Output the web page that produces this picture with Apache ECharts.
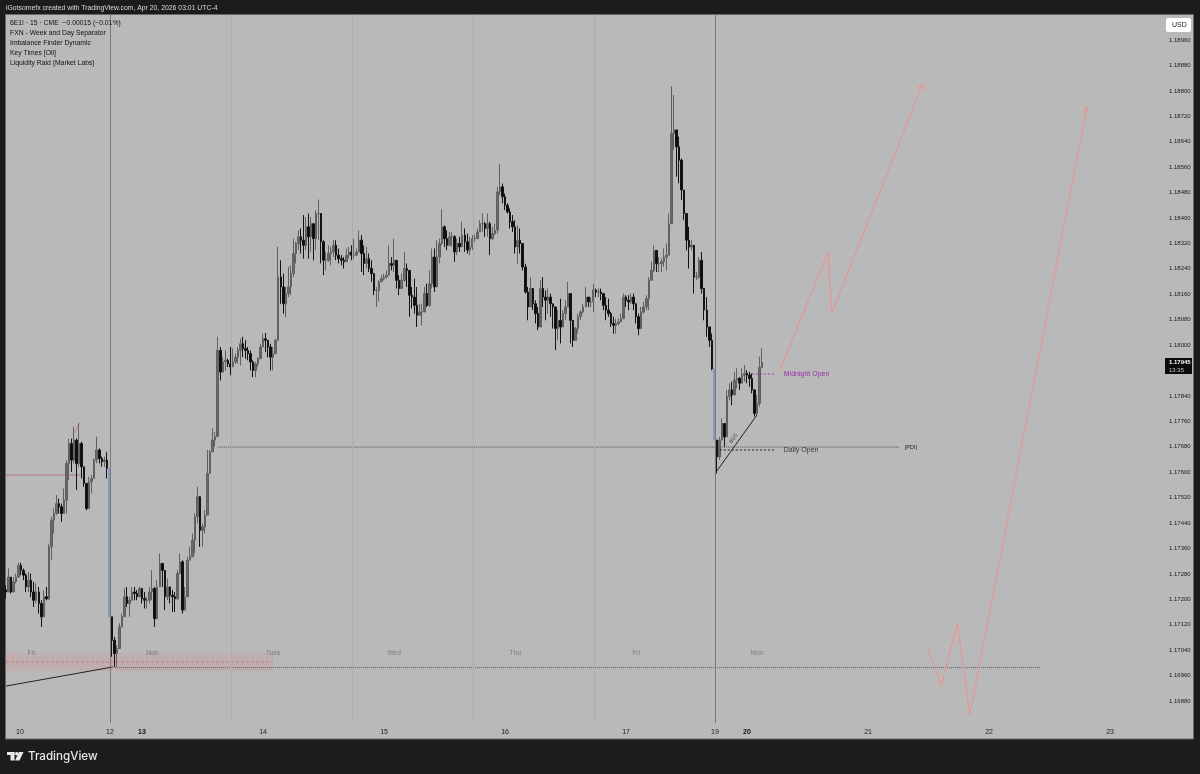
<!DOCTYPE html>
<html><head><meta charset="utf-8">
<style>html,body{margin:0;padding:0;background:#1c1c1c}#c{width:1200px;height:774px;filter:blur(0.45px)}</style>
<script src="https://cdn.jsdelivr.net/npm/echarts@6/dist/echarts.min.js"></script>
</head><body><div id="c"></div>
<script>
// Prices in 1e-5 units (117230 = 1.17230). One candle per 30-minute slot.
const firstOpen = 117230;
const closes = [
117223,117270,117223,117255,117270,117307,117291,117276,117239,117260,117223,117197,117223,117187,117145,117208,117202,117365,117449,117470,117501,117491,117470,117512,117627,117690,117638,117701,117627,117690,117617,117565,117486,117570,117580,117638,117670,117643,117633,117638,117612,117145,
117071,117029,117045,117113,117145,117208,117187,117197,117223,117218,117208,117234,117202,117197,117197,117223,117234,117139,117239,117313,117291,117208,117239,117213,117208,117202,117281,117318,117166,117208,117323,117334,117386,117460,117523,117417,117428,117465,117596,117664,117701,117712,
117983,117915,117947,117952,117941,117931,117947,117962,117983,118004,117989,117983,117973,117947,117920,117941,117957,117994,118020,118015,117994,117962,117973,118015,118214,118183,118130,118162,118183,118225,118288,118320,118341,118330,118314,118372,118341,118382,118335,118414,118414,118325,118267,118267,118288,118293,118314,118283,118272,118267,118262,118283,118293,118283,118283,118293,118330,118288,118257,118272,118241,118225,118172,118172,118199,118209,118214,118220,118257,118251,118267,118204,118178,118204,118241,118235,118157,118151,118125,118094,118104,118104,118162,118125,118193,118277,118183,118277,118320,118372,118335,118314,118341,118341,118293,118320,118309,118346,118325,118299,118309,118335,118335,118356,118382,118382,118367,118382,118335,118351,118362,118482,
118498,118467,118440,118419,118388,118372,118309,118330,118320,118246,118167,118120,118178,118130,118099,118057,118178,118151,118141,118151,118130,118120,118052,118078,118057,118099,118120,118162,118078,118015,118052,118089,118104,118120,118151,118136,118136,118173,118167,118167,118162,118125,118110,118099,118068,118062,118068,118073,118083,118151,118141,118136,118151,118130,118089,118052,118104,118120,118146,118204,118235,118298,118256,118256,118262,118277,118283,118382,118666,118677,118624,118582,118488,118414,118330,118309,118314,118214,118214,118267,118178,118110,118057,118015,117925,
117701,
117648,117701,117753,117711,117838,117859,117843,117890,117895,117880,117906,117911,117906,117895,117859,117785,117817,117930,117945];
const highs = [
117244,117297,117270,117270,117281,117315,117315,117297,117281,117286,117281,117255,117250,117239,117197,117228,117239,117375,117460,117486,117528,117517,117501,117549,117638,117706,117706,117743,117706,117753,117696,117617,117565,117586,117591,117643,117712,117675,117649,117649,117664,117612,
117145,117082,117055,117124,117155,117234,117239,117208,117239,117239,117229,117239,117234,117223,117208,117239,117292,117239,117260,117344,117313,117281,117265,117229,117229,117223,117292,117344,117323,117239,117334,117365,117407,117470,117554,117465,117439,117481,117670,117670,117738,117727,
118026,117994,117962,117983,117957,117994,117989,117973,117994,118020,118026,118015,117994,117983,117952,117947,117962,118004,118036,118038,118015,118004,117994,118020,118309,118267,118225,118183,118246,118251,118335,118325,118361,118367,118409,118403,118414,118403,118382,118424,118458,118382,118330,118293,118314,118309,118332,118330,118304,118283,118277,118304,118309,118314,118335,118304,118361,118346,118314,118309,118288,118267,118214,118183,118204,118220,118225,118235,118314,118277,118335,118251,118220,118225,118293,118257,118235,118183,118209,118183,118130,118130,118183,118193,118235,118304,118304,118330,118335,118427,118377,118361,118356,118356,118346,118335,118341,118388,118367,118351,118341,118346,118346,118367,118393,118414,118388,118414,118388,118372,118382,118498,
118569,118508,118477,118446,118430,118409,118393,118377,118367,118320,118256,118183,118214,118172,118141,118120,118204,118214,118172,118178,118162,118130,118120,118110,118146,118110,118141,118199,118110,118068,118057,118099,118110,118130,118183,118146,118151,118193,118178,118178,118178,118157,118151,118146,118104,118089,118083,118083,118099,118162,118157,118157,118162,118162,118125,118099,118120,118136,118157,118214,118262,118314,118277,118277,118272,118304,118320,118414,118815,118787,118677,118656,118587,118467,118382,118372,118330,118298,118230,118277,118293,118151,118151,118041,118036,
117925,
117680,117711,117769,117753,117859,117880,117885,117916,117927,117900,117927,117937,117921,117916,117911,117859,117843,117964,117990];
const lows = [
117202,117234,117218,117239,117250,117276,117276,117260,117223,117223,117207,117176,117187,117155,117113,117176,117197,117197,117323,117407,117465,117470,117444,117470,117470,117575,117601,117628,117544,117617,117580,117554,117480,117533,117533,117580,117628,117628,117617,117617,117580,117145,
117019,116987,116987,117045,117113,117145,117176,117145,117197,117197,117197,117208,117187,117171,117171,117187,117197,117113,117197,117271,117239,117166,117197,117187,117160,117160,117197,117281,117155,117187,117239,117323,117334,117344,117439,117365,117365,117407,117470,117596,117664,117680,
117731,117889,117915,117920,117931,117905,117931,117941,117941,117936,117962,117957,117952,117920,117899,117899,117931,117962,117994,117978,117962,117920,117920,117973,118115,118130,118099,118088,118151,118157,118214,118257,118299,118288,118272,118299,118272,118293,118267,118299,118330,118257,118220,118235,118262,118251,118277,118267,118257,118251,118241,118267,118272,118267,118272,118283,118299,118230,118220,118241,118230,118199,118157,118120,118136,118199,118204,118209,118220,118235,118230,118178,118157,118183,118199,118183,118089,118115,118099,118057,118094,118062,118115,118120,118120,118178,118167,118214,118257,118314,118309,118299,118314,118309,118262,118283,118293,118320,118293,118288,118283,118299,118325,118341,118356,118356,118341,118341,118283,118330,118346,118351,
118472,118446,118425,118414,118367,118356,118288,118256,118288,118235,118162,118078,118120,118110,118068,118047,118110,118120,118078,118099,118089,118052,117984,118015,118005,118057,118078,118120,118005,117994,118026,118036,118078,118099,118130,118120,118120,118104,118151,118151,118141,118110,118078,118089,118057,118036,118036,118062,118073,118099,118120,118110,118130,118110,118068,118031,118068,118099,118110,118110,118214,118230,118230,118230,118230,118246,118235,118309,118382,118614,118530,118509,118456,118393,118298,118241,118298,118162,118204,118209,118162,118078,118026,117994,117921,
117701,
117596,117638,117701,117680,117711,117827,117811,117859,117864,117859,117880,117885,117880,117869,117848,117775,117780,117806,117937];
const gapBars = [41, 281];

// Time scale: slot numbers of the labelled days and the separators
const tickSlots = [5.55, 41.25, 53.95, 102, 150, 198, 246, 281.25, 293.95, 342, 390, 438];
const tickLabels = ['10','12','13','14','15','16','17','19','20','21','22','23'];
const boldTicks = ['13','20'];
const strongSeparators = [41.25, 281.25];
const faintSeparators = [89.25, 137.25, 185.25, 233.25];
const weekdayNames = ['Fri','Mon','Tues','Wed','Thu','Fri','Mon'];
const weekdaySlots = [10, 58, 106, 154, 202, 250, 298];
const weekdayPrice = 117031;

// Drawings (slot, price in 1e-5 units)
const projectionA = [[307,117921],[326.1,118293],[327.6,118101],[363.7,118822]];
const arrowHeadA = [[361.6,118808],[363.7,118822],[364.4,118802]];
const projectionB = [[365.7,117047],[370.9,116927],[377.4,117124],[382.4,116836],[428.8,118749]];
const arrowHeadB = [[427.4,118730],[428.8,118749],[429.7,118728]];
const pdiLevel = [[84,117679],[354.6,117679]];
const lowLevel = [[43.2,116985],[410.2,116985]];
const zoneSlots = [0, 106];
const zonePrices = [117031, 116974];
const zoneMid = [[0,117003],[106,117003]];
const redLevel = [[0,117591],[30,117591]];
const redTick = [[27,117723],[29.4,117758]];
const riseLeft = [[0,116927],[42.4,116987]];
const riseRight = [[281.4,117597],[297.9,117780]];
const midnightOpen = [[296,117909],[305,117909]];
const dailyOpen = [[281.6,117670],[305,117670]];
const bosLabel = [288.6, 117706];

const legendLines = ['6E1! \u00b7 15 \u00b7 CME  \u22120.00015 (\u22120.01%)','FXN - Week and Day Separator','Imbalance Finder Dynamic','Key Times [Oli]','Liquidity Raid (Market Labs)'];
const legendY = [24, 34, 44, 54, 63.5];
const headerText = 'iGotsomefx created with TradingView.com, Apr 20, 2026 03:01 UTC-4';

const P = v => v / 1e5;
const pts = a => a.map(d => [d[0], P(d[1])]);
const FONT = '"Liberation Sans", Arial, sans-serif';

const candles = closes.map((c, i) => {
  const o = i === 0 ? firstOpen : closes[i - 1];
  const value = [i, P(o), P(c), P(lows[i]), P(highs[i])];
  return gapBars.includes(i)
    ? {value, itemStyle:{color:'#8898c4',color0:'#8898c4',borderColor:'#8898c4',borderColor0:'#8898c4'}}
    : {value};
});

const line = (data, color, width, type, extra) => Object.assign({
  type:'line', data:pts(data), symbol:'none', clip:false, silent:true, animation:false,
  lineStyle:{color, width, type:type||'solid'}, z:3
}, extra||{});

const sepLines = list => list.map(s => [{xAxis:s, yAxis:1.1904},{xAxis:s, yAxis:1.16811}]);

const option = {
  animation:false,
  backgroundColor:'#1c1c1c',
  grid:{left:6, right:37, top:14.6, bottom:47.6, containLabel:false},
  xAxis:{
    type:'value', min:0, max:459,
    axisLine:{show:false}, axisTick:{show:false}, splitLine:{show:false},
    axisLabel:{
      customValues:tickSlots, margin:2, fontSize:7, fontFamily:FONT, color:'#1c1c1c', hideOverlap:false,
      formatter:v => {
        const t = tickLabels[tickSlots.indexOf(v)];
        return t === undefined ? '' : (boldTicks.includes(t) ? '{b|'+t+'}' : t);
      },
      rich:{b:{fontSize:7, fontWeight:'bold', fontFamily:FONT, color:'#111'}}
    }
  },
  yAxis:{
    type:'value', position:'right', min:1.168, max:1.1904, interval:0.0008,
    axisLine:{show:false}, axisTick:{show:false}, splitLine:{show:false},
    axisLabel:{
      margin:6, fontSize:6, fontFamily:FONT, color:'#1c1c1c',
      formatter:v => (v < 1.1685 || v > 1.19) ? '' : v.toFixed(5)
    }
  },
  series:[
    {type:'line', data:[], silent:true, z:1,
     markLine:{silent:true, symbol:'none', label:{show:false}, animation:false,
       lineStyle:{color:'#adadad', width:1, type:'solid'},
       data:sepLines(faintSeparators)},
     markArea:{silent:true, animation:false, itemStyle:{color:'rgba(220,130,130,0.2)'},
       data:[[{xAxis:zoneSlots[0], yAxis:P(zonePrices[0])},{xAxis:zoneSlots[1], yAxis:P(zonePrices[1])}]]}},
    {type:'line', data:[], silent:true, z:1,
     markLine:{silent:true, symbol:'none', label:{show:false}, animation:false,
       lineStyle:{color:'#787878', width:1, type:'solid'},
       data:sepLines(strongSeparators)}},
    line(redLevel,'#b07878',1),
    line(zoneMid,'#bb8080',1,[3,2]),
    line(lowLevel,'#5a5a5a',1,[1,1]),
    line(pdiLevel,'#4a4a4a',1,[1,1],{endLabel:{show:true,formatter:'[PDI]',fontSize:5.5,fontFamily:FONT,color:'#222',distance:5}}),
    line(redTick,'#c98080',1),
    line(riseLeft,'#222222',1),
    line(riseRight,'#222222',1),
    {type:'candlestick', data:candles, barWidth:2, clip:false, z:4, silent:true, animation:false,
     encode:{x:0, y:[1,2,3,4]},
     itemStyle:{color:'#6a6a6a', color0:'#0c0c0c', borderColor:'#606060', borderColor0:'#141414', borderWidth:1}},
    line(midnightOpen,'#9a3aaa',1,[2,2],{z:5,endLabel:{show:true,formatter:'Midnight Open',fontSize:7,fontFamily:FONT,color:'#9a2cae',distance:9}}),
    line(dailyOpen,'#222222',1,[2,2],{z:5,endLabel:{show:true,formatter:'Daily Open',fontSize:7,fontFamily:FONT,color:'#3a3a3a',distance:9}}),
    line(projectionA,'#ec9292',1.1,null,{z:6}),
    line(arrowHeadA,'#ec9292',1.1,null,{z:6}),
    line(projectionB,'#ec9292',1.1,null,{z:6}),
    line(arrowHeadB,'#ec9292',1.1,null,{z:6}),
    {type:'scatter', data:weekdaySlots.map((s,i)=>({value:[s,P(weekdayPrice)],name:weekdayNames[i]})),
     symbolSize:0, silent:true, z:5, animation:false, clip:false,
     label:{show:true, position:'inside', formatter:p=>p.name, fontSize:6.5, fontFamily:FONT, color:'#6a6a6a'}},
    {type:'scatter', data:[{value:[bosLabel[0],P(bosLabel[1])]}], symbolSize:0, silent:true, z:5, animation:false,
     label:{show:true, position:'inside', formatter:'BOS', rotate:55, fontSize:5, fontFamily:FONT, color:'#222'}}
  ],
  graphic:[
    {type:'rect', z:-20, silent:true, shape:{x:5.5,y:14.5,width:1188,height:724.5}, style:{fill:'#b9b9b9', stroke:'#6a6a6a', lineWidth:1}},
    {type:'text', z:50, silent:true, x:6, y:5, style:{text:headerText, fontSize:6.85, fontFamily:FONT, fill:'#dcdcdc'}},
    ...legendLines.map((t,i)=>({type:'text', z:50, silent:true, x:10, y:legendY[i]-4, style:{text:t, fontSize:6.8, fontFamily:FONT, fill:'#111'}})),
    {type:'rect', z:50, silent:true, shape:{x:1166,y:18,width:25,height:14,r:2}, style:{fill:'#ffffff'}},
    {type:'text', z:51, silent:true, x:1172,y:21.5, style:{text:'USD', fontSize:7, fontFamily:FONT, fill:'#222'}},
    {type:'rect', z:50, silent:true, shape:{x:1165,y:358,width:27,height:16}, style:{fill:'#0a0a0a'}},
    {type:'text', z:51, silent:true, x:1169,y:359.5, style:{text:'1.17945', fontSize:6, fontFamily:FONT, fontWeight:'bold', fill:'#ffffff'}},
    {type:'text', z:51, silent:true, x:1169,y:367, style:{text:'13:35', fontSize:6, fontFamily:FONT, fill:'#c8c8c8'}},
    {type:'rect', z:50, silent:true, shape:{x:7,y:752,width:7.5,height:3}, style:{fill:'#e8e8e8'}},
    {type:'rect', z:50, silent:true, shape:{x:10.5,y:752,width:4,height:8.5}, style:{fill:'#e8e8e8'}},
    {type:'circle', z:50, silent:true, shape:{cx:16.8,cy:753.8,r:1.8}, style:{fill:'#e8e8e8'}},
    {type:'polygon', z:50, silent:true, shape:{points:[[19,752],[23.5,752],[19.5,760.5],[15,760.5]]}, style:{fill:'#e8e8e8'}},
    {type:'text', z:50, silent:true, x:28, y:750.5, style:{text:'TradingView', fontSize:11.6, fontFamily:'Inter, sans-serif', fontWeight:500, fill:'#e8e8e8'}}
  ]
};
const chart = echarts.init(document.getElementById('c'), null, {renderer:'canvas', width:1200, height:774});
chart.setOption(option);
</script></body></html>
